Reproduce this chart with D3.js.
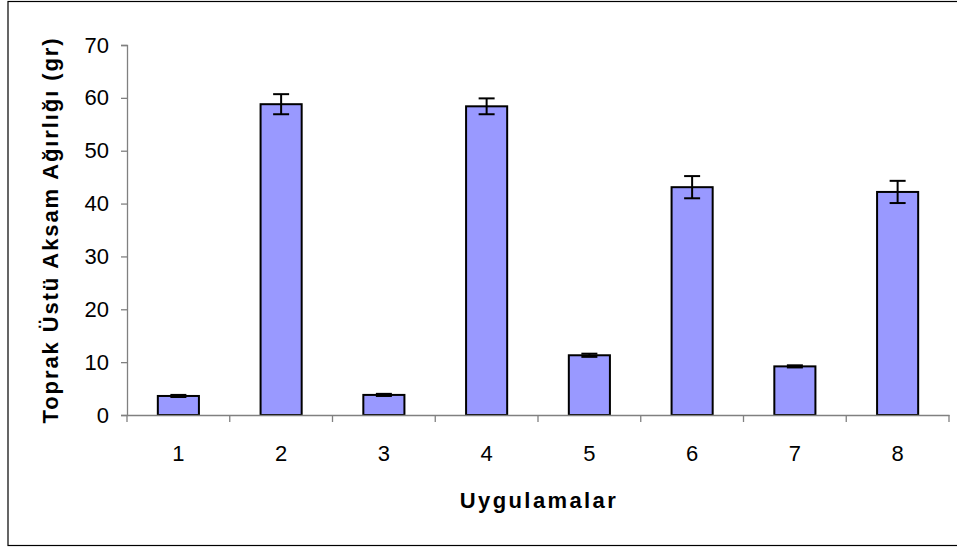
<!DOCTYPE html>
<html lang="en">
<head>
  <meta charset="UTF-8">
  <title>Toprak Üstü Aksam Ağırlığı</title>
  <style>
    body { margin: 0; background: #fff; }
    svg { display: block; font-family: "Liberation Sans", Arial, sans-serif; }
  </style>
</head>
<body>
  <div id="chart"></div>
  <script src="https://d3js.org/d3.v7.min.js"></script>
  <script>
    const categories = ["1", "2", "3", "4", "5", "6", "7", "8"];
    const values = [3.6, 58.8, 3.8, 58.4, 11.3, 43.1, 9.2, 42.2];
    const errors = [0.2, 1.9, 0.2, 1.5, 0.3, 2.1, 0.2, 2.1];
    const yTicks = [0, 10, 20, 30, 40, 50, 60, 70];

    const width = 957, height = 549;
    const plotLeft = 127, plotRight = 949, plotTop = 45, plotBottom = 415;

    const svg = d3.select("#chart").append("svg")
      .attr("width", width).attr("height", height);

    // outer frame
    svg.append("rect")
      .attr("x", 8).attr("y", 1.5)
      .attr("width", 960).attr("height", 544)
      .attr("fill", "none").attr("stroke", "#000").attr("stroke-width", 1.2);

    const x = d3.scaleBand().domain(categories).range([plotLeft, plotRight]).paddingInner(0.6).paddingOuter(0.3);
    const xOuter = d3.scaleBand().domain(categories).range([plotLeft, plotRight]);
    const y = d3.scaleLinear().domain([0, 70]).range([plotBottom, plotTop]);

    // bars
    svg.selectAll("rect.bar").data(values).enter().append("rect")
      .attr("class", "bar")
      .attr("x", (d, i) => x(categories[i]))
      .attr("y", d => y(d))
      .attr("width", x.bandwidth())
      .attr("height", d => y(0) - y(d))
      .attr("fill", "#9999ff")
      .attr("stroke", "#000").attr("stroke-width", 2);

    // error bars
    const eb = svg.append("g").attr("stroke", "#000").attr("stroke-width", 2);
    values.forEach((v, i) => {
      const cx = x(categories[i]) + x.bandwidth() / 2;
      const e = errors[i];
      eb.append("line").attr("x1", cx).attr("x2", cx).attr("y1", y(v + e)).attr("y2", y(v - e));
      eb.append("line").attr("x1", cx - 8).attr("x2", cx + 8).attr("y1", y(v + e)).attr("y2", y(v + e));
      eb.append("line").attr("x1", cx - 8).attr("x2", cx + 8).attr("y1", y(v - e)).attr("y2", y(v - e));
    });

    // y axis
    const yAxis = svg.append("g").attr("transform", `translate(${plotLeft},0)`)
      .call(d3.axisLeft(y).tickValues(yTicks).tickSize(6).tickPadding(12));
    yAxis.select(".domain").attr("stroke", "#808080").attr("stroke-width", 1.3);
    yAxis.selectAll(".tick line").attr("stroke", "#808080").attr("stroke-width", 1.3);
    yAxis.selectAll("text").attr("font-size", 22).attr("fill", "#000")
      .attr("font-family", "'Liberation Sans', Arial, sans-serif");

    // x axis
    const xAxis = svg.append("g").attr("transform", `translate(0,${plotBottom})`)
      .call(d3.axisBottom(xOuter).tickSize(0).tickPadding(30));
    xAxis.select(".domain").attr("stroke", "#808080").attr("stroke-width", 1.3);
    xAxis.selectAll("text").attr("font-size", 22).attr("fill", "#000")
      .attr("font-family", "'Liberation Sans', Arial, sans-serif");
    // tick marks between categories
    const boundaries = categories.map(c => xOuter(c)).concat([plotRight]);
    svg.append("g").selectAll("line").data(boundaries).enter().append("line")
      .attr("x1", d => d).attr("x2", d => d)
      .attr("y1", plotBottom).attr("y2", plotBottom + 7)
      .attr("stroke", "#808080").attr("stroke-width", 1.3);

    // titles
    svg.append("text")
      .attr("x", (plotLeft + plotRight) / 2 + 1).attr("y", 508)
      .attr("text-anchor", "middle")
      .attr("font-size", 22).attr("font-weight", "bold")
      .attr("letter-spacing", 2.4)
      .text("Uygulamalar");

    svg.append("text")
      .attr("transform", `translate(58,${(plotTop + plotBottom) / 2}) rotate(-90)`)
      .attr("text-anchor", "middle")
      .attr("font-size", 22).attr("font-weight", "bold")
      .attr("letter-spacing", 1.9)
      .text("Toprak Üstü Aksam Ağırlığı (gr)");
  </script>
</body>
</html>
